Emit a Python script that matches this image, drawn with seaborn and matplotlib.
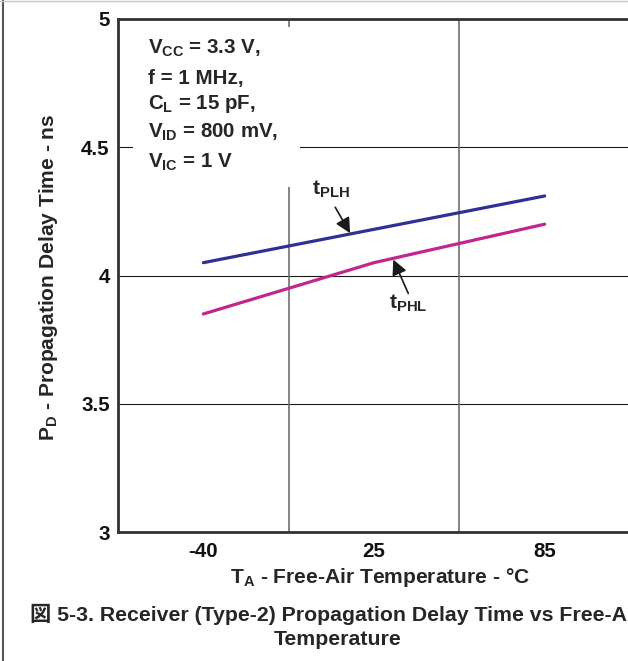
import matplotlib
matplotlib.use("Agg")
import matplotlib.pyplot as plt
from matplotlib.lines import Line2D
from matplotlib.patches import Rectangle
import numpy as np
import pandas as pd
import seaborn as sns

# Receiver (Type-2) propagation delay vs free-air temperature
temps = ["-40", "25", "85"]
t_plh = [4.05, 4.18, 4.31]
t_phl = [3.85, 4.05, 4.20]
y_ticks = [3, 3.5, 4, 4.5, 5]
y_tick_labels = ["3", "3.5", "4", "4.5", "5"]
conditions = [
    r"V$_\mathbf{CC}$ = 3.3 V,",
    "f = 1 MHz,",
    r"C$_\mathbf{L}$ = 15 pF,",
    r"V$_\mathbf{ID}$ = 800 mV,",
    r"V$_\mathbf{IC}$ = 1 V",
]

sns.set_style("white")
plt.rcParams["font.family"] = ["Liberation Sans", "Noto Sans CJK JP", "DejaVu Sans"]
plt.rcParams["font.weight"] = "bold"
plt.rcParams["mathtext.fontset"] = "custom"
plt.rcParams["mathtext.rm"] = "Liberation Sans:bold"
plt.rcParams["mathtext.bf"] = "Liberation Sans:bold"
plt.rcParams["mathtext.it"] = "Liberation Sans:bold"

FS = 14.8

W, H = 628, 661
fig = plt.figure(figsize=(W / 100, H / 100), dpi=100)
fig.patch.set_facecolor("white")

# axes box in pixel terms; right edge runs just past the image border
left_px, right_px, top_px, bottom_px = 118, 630, 19, 532
ax = fig.add_axes([left_px / W, 1 - bottom_px / H,
                   (right_px - left_px) / W, (bottom_px - top_px) / H])

pos = np.arange(len(temps))
df = pd.DataFrame({
    "pos": np.concatenate([pos, pos]),
    "delay": t_plh + t_phl,
    "series": ["tPLH"] * len(temps) + ["tPHL"] * len(temps),
})
sns.lineplot(data=df, x="pos", y="delay", hue="series",
             palette={"tPLH": "#2E3192", "tPHL": "#C1268E"},
             linewidth=2.3, legend=False, sort=False, ax=ax, zorder=4)

ax.set_xlim(-0.5, len(temps) - 0.5)
ax.set_ylim(y_ticks[0], y_ticks[-1])

# grid
for yv in y_ticks[1:-1]:
    ax.axhline(yv, color="#1a1a1a", lw=0.8, zorder=1)
for xv in pos[:-1] + 0.5:
    ax.axvline(xv, color="#6e6e6e", lw=1.2, zorder=1)

# white panel behind the test conditions
ax.add_patch(Rectangle((0.029, 0.672), 0.326, 0.312, transform=ax.transAxes,
                       facecolor="white", edgecolor="none", zorder=2))
baselines_px = [54, 84, 109, 138, 168]
for txt, bpx in zip(conditions, baselines_px):
    ax.text((148 - left_px) / (right_px - left_px),
            (bottom_px - bpx) / (bottom_px - top_px),
            txt, transform=ax.transAxes, fontsize=FS, fontweight="bold",
            ha="left", va="baseline", zorder=5)

# curve labels with arrows
ax.text(0.638, 4.315, r"t$_\mathbf{PLH}$", fontsize=FS + 0.5, fontweight="bold",
        ha="left", va="baseline", zorder=5)
ax.annotate("", xy=(0.86, 4.165), xytext=(0.773, 4.266),
            arrowprops=dict(arrowstyle="-|>,head_length=0.7,head_width=0.35",
                            color="#1a1a1a", lw=1.2, mutation_scale=13,
                            shrinkA=0, shrinkB=0), zorder=5)
ax.text(1.085, 3.872, r"t$_\mathbf{PHL}$", fontsize=FS + 0.5, fontweight="bold",
        ha="left", va="baseline", zorder=5)
ax.annotate("", xy=(1.113, 4.062), xytext=(1.201, 3.93),
            arrowprops=dict(arrowstyle="-|>,head_length=0.7,head_width=0.35",
                            color="#1a1a1a", lw=1.2, mutation_scale=13,
                            shrinkA=0, shrinkB=0), zorder=5)

# ticks
ax.set_xticks(pos, temps)
ax.set_yticks(y_ticks, y_tick_labels)
ax.tick_params(axis="both", length=0, labelsize=FS, colors="#111111")
ax.tick_params(axis="y", pad=6)
ax.tick_params(axis="x", pad=7)
for lab in ax.get_xticklabels() + ax.get_yticklabels():
    lab.set_fontweight("bold")

# spines
for side in ["top", "bottom", "left"]:
    ax.spines[side].set_color("#333333")
    ax.spines[side].set_linewidth(2.0)
    ax.spines[side].set_zorder(6)
ax.spines["right"].set_visible(False)

ax.set_xlabel(r"T$_\mathbf{A}$ - Free-Air Temperature - °C",
              fontsize=FS + 0.3, fontweight="bold")
ax.xaxis.set_label_coords((380 - left_px) / (right_px - left_px),
                          (bottom_px - 566) / (bottom_px - top_px))
ax.set_ylabel(r"P$_\mathbf{D}$ - Propagation Delay Time - ns",
              fontsize=FS + 0.3, fontweight="bold", va="center")
ax.yaxis.set_label_coords((49 - left_px) / (right_px - left_px),
                          (bottom_px - 277) / (bottom_px - top_px))

# caption
fig.text(30 / W, 1 - 621 / H,
         "図 5-3. Receiver (Type-2) Propagation Delay Time vs Free-Air",
         fontsize=15.3, fontweight="bold", ha="left", va="baseline")
fig.text(338 / W, 1 - 645 / H, "Temperature",
         fontsize=15.3, fontweight="bold", ha="center", va="baseline")

# page frame edges
fig.add_artist(Line2D([3.5 / W, 3.5 / W], [0, 1], color="#555555", lw=1.5))
fig.add_artist(Line2D([0, 1], [1 - 0.6 / H, 1 - 0.6 / H], color="#c8c8c8", lw=1.0))

fig.savefig("out.png", dpi=100)
